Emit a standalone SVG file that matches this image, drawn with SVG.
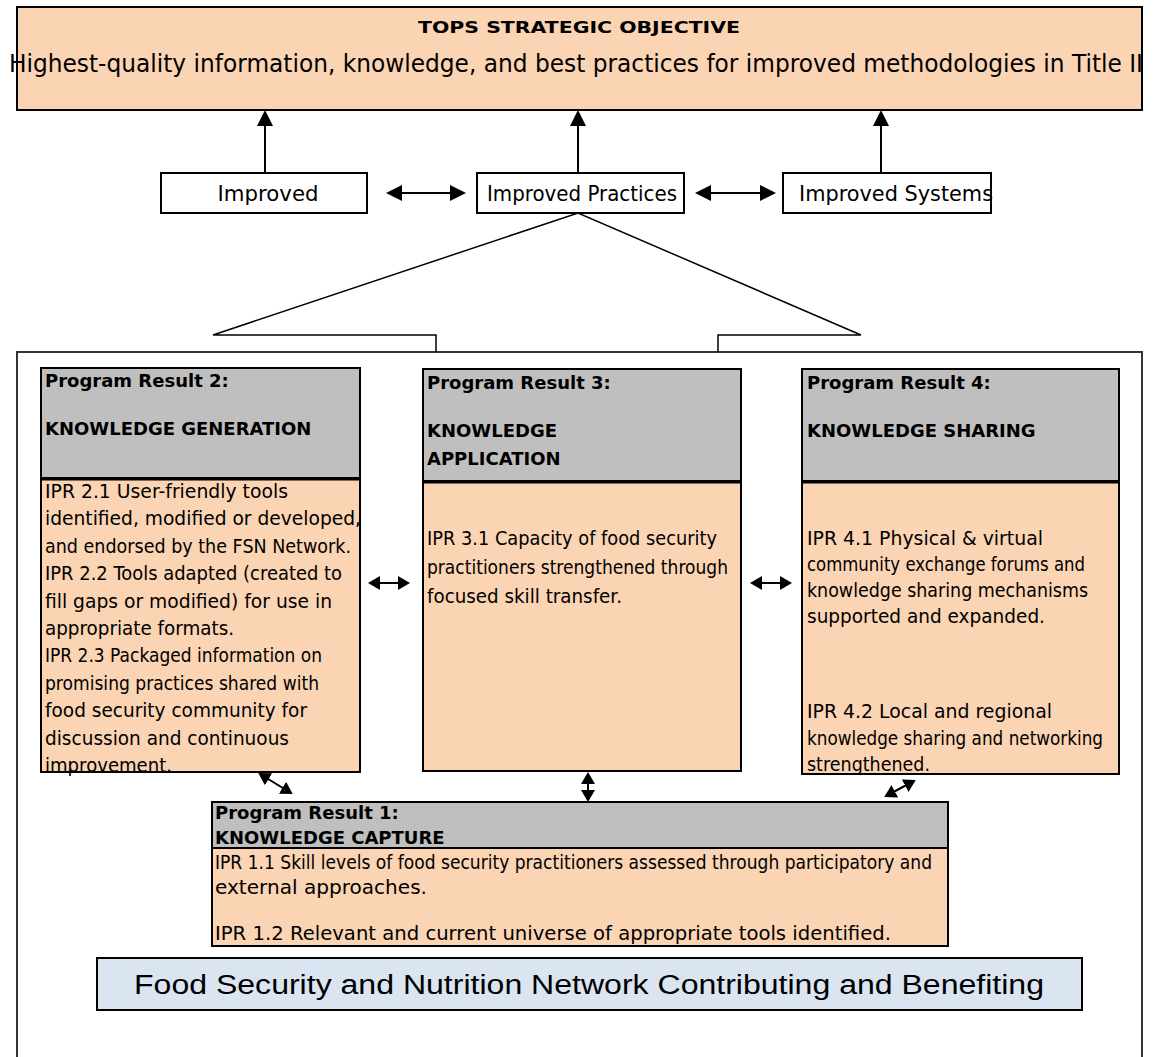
<svg xmlns="http://www.w3.org/2000/svg" width="1155" height="1057" viewBox="0 0 1155 1057">
<style>
.bx{stroke:#000;stroke-width:2}
.peach{fill:#FBD4B4}
.gray{fill:#BFBFBF}
.white{fill:#fff}
.t{font-family:'DejaVu Sans',Verdana,sans-serif;fill:#000;font-size:19.5px}
.b{font-weight:bold;font-size:18px}
.ln{stroke:#000;stroke-width:2;fill:none}
.thin{stroke:#000;stroke-width:1.5;fill:none}
</style>
<defs>
<marker id="big" viewBox="0 0 16 16" markerUnits="userSpaceOnUse" markerWidth="16" markerHeight="16" refX="14" refY="8" orient="auto-start-reverse"><path d="M0,0 L16,8 L0,16 z" fill="#000"/></marker>
<marker id="sm" viewBox="0 0 12 14" markerUnits="userSpaceOnUse" markerWidth="12" markerHeight="14" refX="10" refY="7" orient="auto-start-reverse"><path d="M0,0 L12,7 L0,14 z" fill="#000"/></marker>
</defs>

<g id="objective">
<rect class="bx peach" x="17" y="7" width="1125" height="103"/>
<text class="t b" x="579" y="33" style="font-size:16px" text-anchor="middle" textLength="322" lengthAdjust="spacingAndGlyphs">TOPS STRATEGIC OBJECTIVE</text>
<text class="t" x="9" y="72" style="font-size:24px" textLength="1134" lengthAdjust="spacingAndGlyphs">Highest-quality information, knowledge, and best practices for improved methodologies in Title II</text>
</g>

<g id="improved">
<rect class="bx white" x="161" y="173" width="206" height="40"/>
<text class="t" x="268" y="201" style="font-size:22px" text-anchor="middle" textLength="101" lengthAdjust="spacingAndGlyphs">Improved</text>
</g>
<g id="improved-practices">
<rect class="bx white" x="477" y="173" width="207" height="40"/>
<text class="t" x="487" y="201" style="font-size:22px" textLength="190" lengthAdjust="spacingAndGlyphs">Improved Practices</text>
</g>
<g id="improved-systems">
<rect class="bx white" x="783" y="173" width="208" height="40"/>
<text class="t" x="799" y="201" style="font-size:22px" textLength="194" lengthAdjust="spacingAndGlyphs">Improved Systems</text>
</g>

<g id="container">
<rect x="17" y="352" width="1125" height="720" fill="none" stroke="#333" stroke-width="2"/>
</g>

<g id="pr2">
<rect class="bx peach" x="41" y="478" width="319" height="294"/>
<rect class="bx gray" x="41" y="368" width="319" height="110"/>
<line x1="41" y1="479" x2="360" y2="479" stroke="#000" stroke-width="3"/>
<text class="t b" x="45" y="387">Program Result 2:</text>
<text class="t b" x="45" y="435">KNOWLEDGE GENERATION</text>
<text class="t" x="45" y="498" textLength="243" lengthAdjust="spacingAndGlyphs">IPR 2.1 User-friendly tools</text>
<text class="t" x="45" y="525.4" textLength="316" lengthAdjust="spacingAndGlyphs">identified, modified or developed,</text>
<text class="t" x="45" y="552.8" textLength="306" lengthAdjust="spacingAndGlyphs">and endorsed by the FSN Network.</text>
<text class="t" x="45" y="580.2" textLength="297" lengthAdjust="spacingAndGlyphs">IPR 2.2 Tools adapted (created to</text>
<text class="t" x="45" y="607.6" textLength="287" lengthAdjust="spacingAndGlyphs">fill gaps or modified) for use in</text>
<text class="t" x="45" y="635" textLength="189" lengthAdjust="spacingAndGlyphs">appropriate formats.</text>
<text class="t" x="45" y="662.4" textLength="277" lengthAdjust="spacingAndGlyphs">IPR 2.3 Packaged information on</text>
<text class="t" x="45" y="689.8" textLength="274" lengthAdjust="spacingAndGlyphs">promising practices shared with</text>
<text class="t" x="45" y="717.2" textLength="262" lengthAdjust="spacingAndGlyphs">food security community for</text>
<text class="t" x="45" y="744.6" textLength="244" lengthAdjust="spacingAndGlyphs">discussion and continuous</text>
<text class="t" x="45" y="772" textLength="127" lengthAdjust="spacingAndGlyphs">improvement.</text>
</g>

<g id="pr3">
<rect class="bx peach" x="423" y="481" width="318" height="290"/>
<rect class="bx gray" x="423" y="369" width="318" height="112"/>
<line x1="423" y1="482" x2="741" y2="482" stroke="#000" stroke-width="3"/>
<text class="t b" x="427" y="389">Program Result 3:</text>
<text class="t b" x="427" y="437">KNOWLEDGE</text>
<text class="t b" x="427" y="465">APPLICATION</text>
<text class="t" x="427" y="545" textLength="290" lengthAdjust="spacingAndGlyphs">IPR 3.1 Capacity of food security</text>
<text class="t" x="427" y="574" textLength="301" lengthAdjust="spacingAndGlyphs">practitioners strengthened through</text>
<text class="t" x="427" y="603" textLength="195" lengthAdjust="spacingAndGlyphs">focused skill transfer.</text>
</g>

<g id="pr4">
<rect class="bx peach" x="802" y="481" width="317" height="293"/>
<rect class="bx gray" x="802" y="369" width="317" height="112"/>
<line x1="802" y1="482" x2="1119" y2="482" stroke="#000" stroke-width="3"/>
<text class="t b" x="807" y="389">Program Result 4:</text>
<text class="t b" x="807" y="437">KNOWLEDGE SHARING</text>
<text class="t" x="807" y="545" textLength="236" lengthAdjust="spacingAndGlyphs">IPR 4.1 Physical &amp; virtual</text>
<text class="t" x="807" y="571" textLength="278" lengthAdjust="spacingAndGlyphs">community exchange forums and</text>
<text class="t" x="807" y="597" textLength="281" lengthAdjust="spacingAndGlyphs">knowledge sharing mechanisms</text>
<text class="t" x="807" y="623" textLength="238" lengthAdjust="spacingAndGlyphs">supported and expanded.</text>
<text class="t" x="807" y="718" textLength="245" lengthAdjust="spacingAndGlyphs">IPR 4.2 Local and regional</text>
<text class="t" x="807" y="745" textLength="296" lengthAdjust="spacingAndGlyphs">knowledge sharing and networking</text>
<text class="t" x="807" y="771" textLength="123" lengthAdjust="spacingAndGlyphs">strengthened.</text>
</g>

<g id="pr1">
<rect class="bx peach" x="212" y="848" width="736" height="98"/>
<rect class="bx gray" x="212" y="802" width="736" height="46"/>
<text class="t b" x="215" y="819">Program Result 1:</text>
<text class="t b" x="215" y="844">KNOWLEDGE CAPTURE</text>
<text class="t" x="215" y="869" textLength="717" lengthAdjust="spacingAndGlyphs">IPR 1.1 Skill levels of food security practitioners assessed through participatory and</text>
<text class="t" x="215" y="894" textLength="212" lengthAdjust="spacingAndGlyphs">external approaches.</text>
<text class="t" x="215" y="940" textLength="676" lengthAdjust="spacingAndGlyphs">IPR 1.2 Relevant and current universe of appropriate tools identified.</text>
</g>

<g id="fsn">
<rect x="97" y="958" width="985" height="52" fill="#DBE5F1" stroke="#000" stroke-width="2"/>
<text x="589" y="994" font-family="'Liberation Sans',Arial,sans-serif" font-size="27" text-anchor="middle" textLength="910" lengthAdjust="spacingAndGlyphs">Food Security and Nutrition Network Contributing and Benefiting</text>
</g>

<g id="connectors">
<line class="ln" x1="265" y1="173" x2="265" y2="112" marker-end="url(#big)"/>
<line class="ln" x1="578" y1="173" x2="578" y2="112" marker-end="url(#big)"/>
<line class="ln" x1="881" y1="173" x2="881" y2="112" marker-end="url(#big)"/>
<line class="ln" x1="388" y1="193" x2="464" y2="193" marker-start="url(#big)" marker-end="url(#big)"/>
<line class="ln" x1="697" y1="193" x2="774" y2="193" marker-start="url(#big)" marker-end="url(#big)"/>
<path class="thin" d="M436,352 V335 H213 L578,213 L861,335 H718 V352"/>
<line class="ln" x1="370" y1="583" x2="408" y2="583" marker-start="url(#sm)" marker-end="url(#sm)"/>
<line class="ln" x1="752" y1="583" x2="790" y2="583" marker-start="url(#sm)" marker-end="url(#sm)"/>
<line class="ln" x1="260" y1="774" x2="291" y2="793" marker-start="url(#sm)" marker-end="url(#sm)"/>
<line class="ln" x1="588" y1="774" x2="588" y2="800" marker-start="url(#sm)" marker-end="url(#sm)"/>
<line class="ln" x1="886" y1="796" x2="914" y2="781" marker-start="url(#sm)" marker-end="url(#sm)"/>
</g>
</svg>
